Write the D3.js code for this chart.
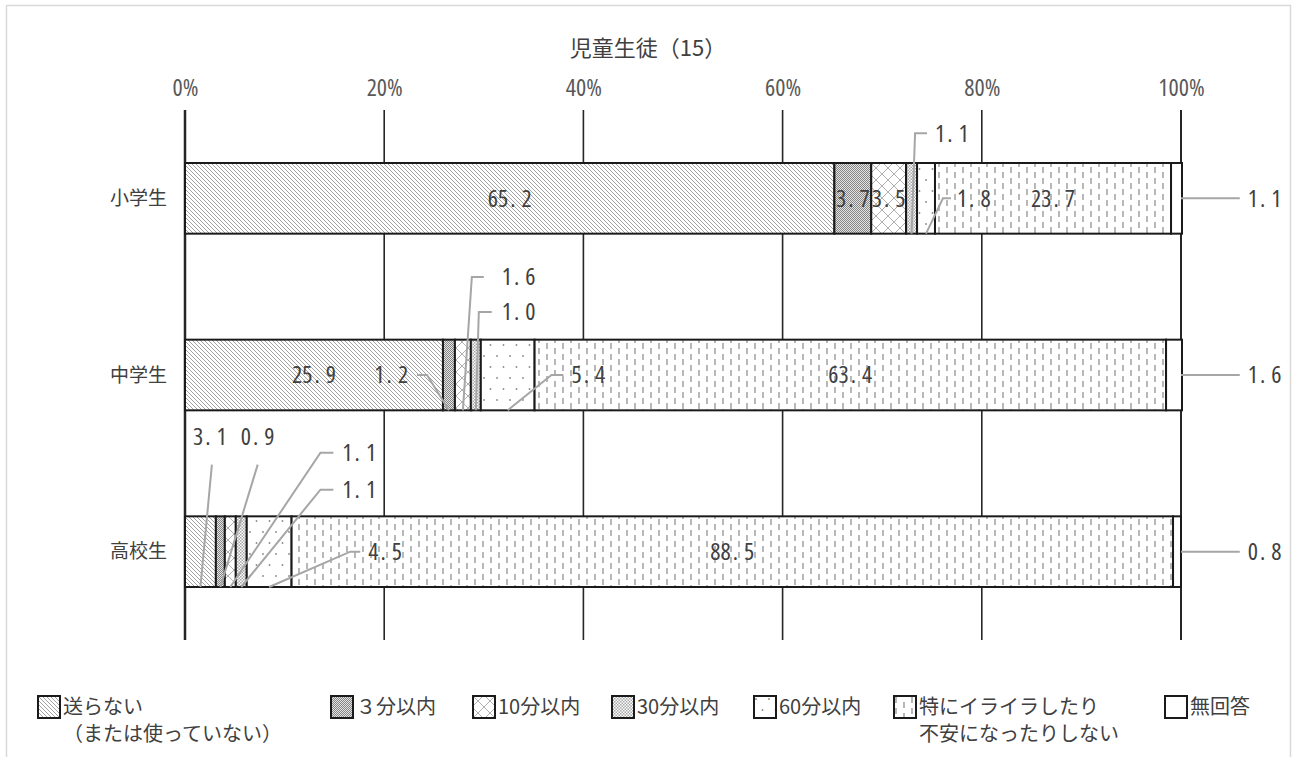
<!DOCTYPE html>
<html><head><meta charset="utf-8">
<script src="https://cdn.jsdelivr.net/npm/d3@7"></script>
<style>
html,body{margin:0;padding:0;background:#fff;}
svg{display:block;}
</style>
</head><body>
<svg id="chart" width="1293" height="757"></svg>
<script>
// ---- data ----
const title = "児童生徒（15）";
const categories = ["小学生", "中学生", "高校生"];
const seriesNames = ["送らない（または使っていない）", "３分以内", "10分以内", "30分以内", "60分以内", "特にイライラしたり不安になったりしない", "無回答"];
const legendLines = [["送らない", "（または使っていない）"], ["３分以内"], ["10分以内"], ["30分以内"], ["60分以内"], ["特にイライラしたり", "不安になったりしない"], ["無回答"]];
const valuesElementary = [65.2, 3.7, 3.5, 1.1, 1.8, 23.7, 1.1];
const valuesJunior = [25.9, 1.2, 1.6, 1.0, 5.4, 63.4, 1.6];
const valuesHigh = [3.1, 0.9, 1.1, 1.1, 4.5, 88.5, 0.8];
const tickValues = [0, 20, 40, 60, 80, 100];

// ---- layout (not data) ----
const W = 1293, H = 757;
const plot = {left: 185, right: 1181, top: 110, bottom: 640};
const legendX = [37, 330, 472, 611, 753, 893, 1164];
const calloutLayout = [
  {cat: 0, ser: 3, kind: "elbow", ex: 73.3, hx: 74.5, tx: 75.3, dy: -65, anchor: "start"},
  {cat: 0, ser: 4, kind: "elbow", ex: 76.1, hx: 76.9, tx: 77.5, dy: 0, anchor: "start"},
  {cat: 0, ser: 6, kind: "right"},
  {cat: 1, ser: 1, kind: "elbow", ex: 24.3, hx: 23.3, tx: 22.4, dy: 0, anchor: "end"},
  {cat: 1, ser: 2, kind: "elbow", ex: 28.8, hx: 30.0, tx: 31.8, dy: -98, anchor: "start"},
  {cat: 1, ser: 3, kind: "elbow", ex: 29.5, hx: 30.8, tx: 31.8, dy: -63, anchor: "start"},
  {cat: 1, ser: 4, kind: "elbow", ex: 36.8, hx: 38.0, tx: 38.8, dy: 0, anchor: "start"},
  {cat: 1, ser: 6, kind: "right"},
  {cat: 2, ser: 0, kind: "up", ex: 2.7, tx: 2.5, dy: -87, tdy: -115},
  {cat: 2, ser: 1, kind: "up", ex: 7.3, tx: 7.3, dy: -87, tdy: -115},
  {cat: 2, ser: 2, kind: "elbow", ex: 13.6, hx: 14.9, tx: 15.8, dy: -99, anchor: "start"},
  {cat: 2, ser: 3, kind: "elbow", ex: 13.6, hx: 14.9, tx: 15.8, dy: -62, anchor: "start"},
  {cat: 2, ser: 4, kind: "elbow", ex: 16.6, hx: 17.6, tx: 18.4, dy: 0, anchor: "start"},
  {cat: 2, ser: 6, kind: "right"}
];

const allValues = [valuesElementary, valuesJunior, valuesHigh];
const keys = seriesNames.map((_, i) => "s" + i);
const rows = categories.map((c, ci) => {
  const r = {cat: c};
  keys.forEach((k, si) => r[k] = allValues[ci][si]);
  return r;
});
const stacked = d3.stack().keys(keys)(rows);

const svg = d3.select("#chart");
const numFont = "'Open Sans',sans-serif";
const jpFont = "'Noto Sans CJK JP','Noto Sans',sans-serif";
const textColor = "#404040";

svg.append("rect").attr("width", W).attr("height", H).attr("fill", "#fff");
svg.append("rect").attr("x", 6.5).attr("y", 5.5).attr("width", 1284).attr("height", 800)
  .attr("fill", "none").attr("stroke", "#d9d9d9").attr("stroke-width", 1.5);

// ---- patterns ----
const defs = svg.append("defs");
function pat(id, w, h) {
  const p = defs.append("pattern").attr("id", id).attr("patternUnits", "userSpaceOnUse")
    .attr("width", w).attr("height", h);
  p.append("rect").attr("width", w).attr("height", h).attr("fill", "#fff");
  return p;
}
pat("p0", 4, 4).append("path").attr("d", "M-1,-1 L5,5 M-1,3 L1,5 M3,-1 L5,1")
  .attr("stroke", "#a2a2a2").attr("stroke-width", 1).attr("fill", "none");
{
  const p = pat("p1", 2, 2);
  p.select("rect").attr("fill", "#e4e4e4");
  p.append("rect").attr("x", 0).attr("y", 0).attr("width", 1).attr("height", 1).attr("fill", "#858585");
  p.append("rect").attr("x", 1).attr("y", 1).attr("width", 1).attr("height", 1).attr("fill", "#858585");
}
pat("p2", 12, 12).append("path").attr("d", "M0,0 L12,12 M12,0 L0,12")
  .attr("stroke", "#b0b0b0").attr("stroke-width", 1).attr("fill", "none");
{
  const p = pat("p3", 3, 3);
  p.append("rect").attr("x", 0).attr("y", 0).attr("width", 1.5).attr("height", 1.5).attr("fill", "#a8a8a8");
  p.append("rect").attr("x", 1.5).attr("y", 1.5).attr("width", 1.5).attr("height", 1.5).attr("fill", "#a8a8a8");
}
{
  const p = pat("p4", 13, 22);
  p.append("circle").attr("cx", 3).attr("cy", 4).attr("r", 0.9).attr("fill", "#8a8a8a");
  p.append("circle").attr("cx", 9.5).attr("cy", 15).attr("r", 0.9).attr("fill", "#8a8a8a");
}
pat("p5", 16, 22).append("path")
  .attr("d", "M3,2 V8 M3,13 V19 M11,7 V13 M11,18 V24 M11,-4 V2")
  .attr("stroke", "#a6a6a6").attr("stroke-width", 1.6).attr("fill", "none");
pat("p6", 4, 4);

// ---- scales ----
const x = d3.scaleLinear().domain([0, 100]).range([plot.left, plot.right]);
const y = d3.scaleBand().domain(categories).range([plot.top, plot.bottom])
  .paddingInner(0.6).paddingOuter(0.3);

// ---- title ----
svg.append("text").attr("x", 648).attr("y", 48).attr("dy", "0.35em")
  .attr("text-anchor", "middle").attr("font-family", jpFont).attr("font-size", 22)
  .attr("fill", textColor).text(title);

// ---- top axis ----
const axis = svg.append("g").attr("transform", `translate(0,${96})`)
  .call(d3.axisTop(x).tickValues(tickValues).tickFormat(d => d + "%").tickSize(0).tickPadding(0));
axis.select(".domain").remove();
axis.selectAll("text").attr("font-family", numFont).attr("font-size", 24)
  .style("font-stretch", "75%").attr("fill", "#595959");

// ---- gridlines ----
svg.append("g").selectAll("line").data(tickValues).join("line")
  .attr("x1", d => x(d)).attr("x2", d => x(d))
  .attr("y1", plot.top).attr("y2", plot.bottom)
  .attr("stroke", "#262626")
  .attr("stroke-width", d => d === 0 ? 2.5 : (d === 100 ? 2 : 1.6));

// ---- category labels ----
svg.append("g").selectAll("text").data(categories).join("text")
  .attr("x", plot.left - 18).attr("y", d => y(d) + y.bandwidth() / 2).attr("dy", "0.35em")
  .attr("text-anchor", "end").attr("font-family", jpFont).attr("font-size", 19)
  .attr("fill", textColor).text(d => d);

// ---- bars ----
const segs = [];
stacked.forEach((layer, si) => {
  layer.forEach((d, ci) => segs.push({si, ci, x0: d[0], x1: d[1], v: allValues[ci][si]}));
});
svg.append("g").selectAll("rect").data(segs).join("rect")
  .attr("x", d => x(d.x0)).attr("width", d => x(d.x1) - x(d.x0))
  .attr("y", d => y(categories[d.ci])).attr("height", y.bandwidth())
  .attr("fill", d => `url(#p${d.si})`)
  .attr("stroke", "#1a1a1a").attr("stroke-width", 2);

// ---- labels ----
function numLabel(sel, v) {
  const s = v.toFixed(1).split(".");
  sel.append("tspan").text(s[0]);
  sel.append("tspan").attr("dx", 2).text(".");
  sel.append("tspan").attr("dx", 6).text(s[1]);
}
const lblG = svg.append("g").attr("font-family", numFont).attr("font-size", 24)
  .style("font-stretch", "75%").attr("fill", textColor);
const lineG = svg.append("g").attr("stroke", "#a6a6a6").attr("stroke-width", 2).attr("fill", "none");
const calloutKey = new Set(calloutLayout.map(c => c.cat + "-" + c.ser));

segs.filter(d => !calloutKey.has(d.ci + "-" + d.si)).forEach(d => {
  const t = lblG.append("text")
    .attr("x", x((d.x0 + d.x1) / 2))
    .attr("y", y(categories[d.ci]) + y.bandwidth() / 2).attr("dy", "0.35em")
    .attr("text-anchor", "middle");
  numLabel(t, d.v);
});

calloutLayout.forEach(c => {
  const d = segs.find(s => s.ci === c.cat && s.si === c.ser);
  const cy = y(categories[c.cat]) + y.bandwidth() / 2;
  const bottom = y(categories[c.cat]) + y.bandwidth();
  const mx = x((d.x0 + d.x1) / 2);
  let t;
  if (c.kind === "right") {
    lineG.append("path").attr("d", `M${x(100)},${cy} H${x(105.9)}`);
    t = lblG.append("text").attr("x", x(106.7)).attr("y", cy).attr("text-anchor", "start");
  } else if (c.kind === "up") {
    lineG.append("path").attr("d", `M${mx},${bottom} L${x(c.ex)},${cy + c.dy}`);
    t = lblG.append("text").attr("x", x(c.tx)).attr("y", cy + c.tdy).attr("text-anchor", "middle");
  } else {
    lineG.append("path").attr("d", `M${mx},${bottom} L${x(c.ex)},${cy + c.dy} L${x(c.hx)},${cy + c.dy}`);
    t = lblG.append("text").attr("x", x(c.tx)).attr("y", cy + c.dy).attr("text-anchor", c.anchor);
  }
  t.attr("dy", "0.35em");
  numLabel(t, d.v);
});

// ---- legend ----
const lg = svg.append("g");
seriesNames.forEach((name, i) => {
  const g = lg.append("g").attr("transform", `translate(${legendX[i]},695)`);
  g.append("rect").attr("x", 1).attr("y", 1).attr("width", 22).attr("height", 22)
    .attr("fill", `url(#p${i})`).attr("stroke", "#1a1a1a").attr("stroke-width", 2);
  const t = g.append("text").attr("font-family", jpFont).attr("font-size", 20).attr("fill", textColor);
  legendLines[i].forEach((ln, j) => {
    t.append("tspan").attr("x", 26).attr("y", 12 + j * 27).attr("dy", "0.35em").text(ln);
  });
});
</script>
</body></html>
